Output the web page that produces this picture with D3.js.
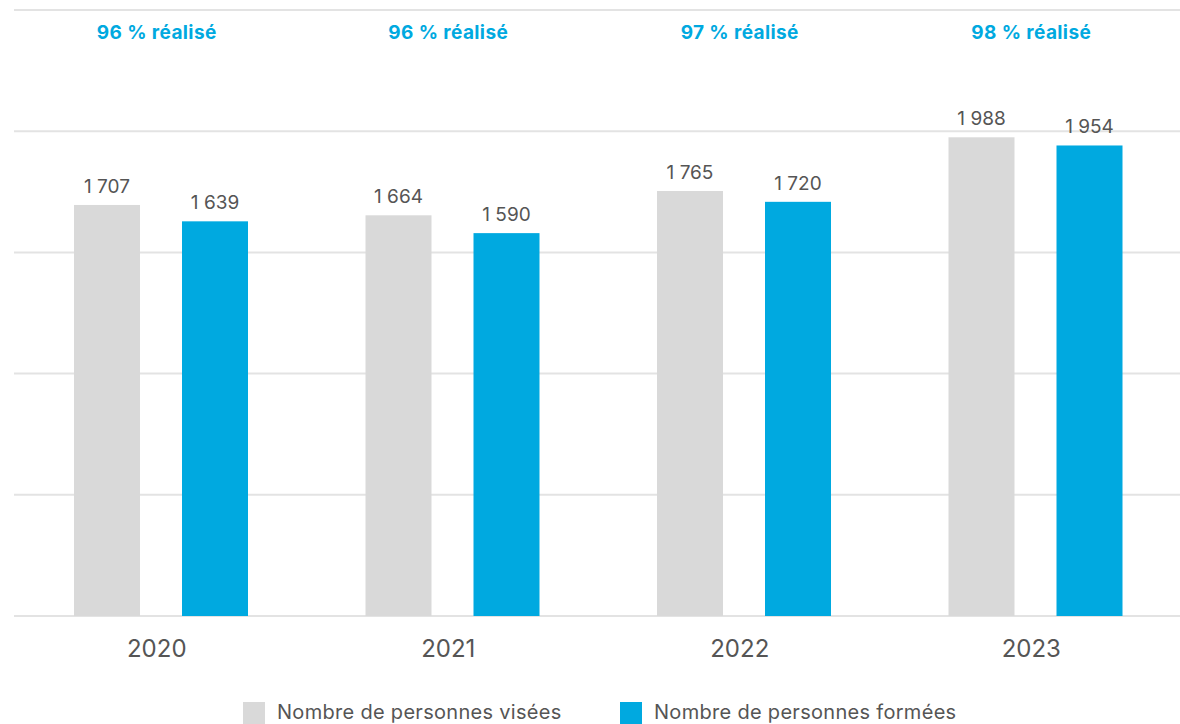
<!DOCTYPE html>
<html><head><meta charset="utf-8">
<script src="https://cdn.jsdelivr.net/npm/d3@7/dist/d3.min.js"></script>
<style>body{margin:0;background:#fff;}svg{display:block;font-family:Inter,Roboto,"Noto Sans",sans-serif;}</style>
</head><body>
<svg id="c" width="1180" height="724"></svg>
<script>
const years = ["2020","2021","2022","2023"];
const visees = [1707,1664,1765,1988];
const formees = [1639,1590,1720,1954];
const pcts = ["96 % réalisé","96 % réalisé","97 % réalisé","98 % réalisé"];
const ticks = [0,500,1000,1500,2000,2500];
const seriesNames = ["Nombre de personnes visées","Nombre de personnes formées"];
const colors = ["#d9d9d9","#00a9e0"];

(function(){
const svg = d3.select("#c");
const mLeft = 14, mRight = 1180, mTop = 10, mBottom = 616;
const x = d3.scaleBand().domain(years).range([mLeft,mRight]);
const yGrid = d3.scaleLinear().domain([0,2500]).range([mBottom,mTop]);
const y = d3.scaleLinear().domain([0,2500]).range([mBottom,mTop+4]);
const fmt = v => { const s = String(v); return s.length>3 ? s.slice(0,-3)+"\u00A0"+s.slice(-3) : s; };

svg.append("g").selectAll("line").data(ticks).join("line")
  .attr("x1",mLeft).attr("x2",mRight).attr("y1",d=>yGrid(d)).attr("y2",d=>yGrid(d))
  .attr("stroke","#e3e3e3").attr("stroke-width",2);

const barW = 66, off0 = 60, off1 = 168;
const series = [visees, formees];
series.forEach((vals,si)=>{
  const g = svg.append("g");
  g.selectAll("rect").data(years).join("rect")
    .attr("x",(d)=>x(d)+(si===0?off0:off1))
    .attr("y",(d,i)=>y(vals[i])).attr("width",barW)
    .attr("height",(d,i)=>y(0)-y(vals[i])).attr("fill",colors[si]);
  g.selectAll("text").data(years).join("text")
    .attr("x",(d)=>x(d)+(si===0?off0:off1)+barW/2)
    .attr("y",(d,i)=>y(vals[i])-12)
    .attr("text-anchor","middle").attr("font-size",19).attr("fill","#555")
    .text((d,i)=>fmt(vals[i]));
});

svg.append("g").selectAll("text").data(years).join("text")
  .attr("x",d=>x(d)+x.bandwidth()/2-3).attr("y",657)
  .attr("text-anchor","middle").attr("font-size",24).attr("fill","#555").text(d=>d);

svg.append("g").selectAll("text").data(years).join("text")
  .attr("x",d=>x(d)+x.bandwidth()/2-3).attr("y",39)
  .attr("text-anchor","middle").attr("font-size",19).attr("letter-spacing",0.4).attr("font-weight","bold").attr("fill","#00a9e0")
  .text((d,i)=>pcts[i]);

const legX = [243,620];
seriesNames.forEach((n,i)=>{
  svg.append("rect").attr("x",legX[i]).attr("y",702).attr("width",22).attr("height",24).attr("fill",colors[i]);
  svg.append("text").attr("x",legX[i]+34).attr("y",719).attr("font-size",20).attr("letter-spacing",0.3).attr("fill","#555").text(n);
});
})();
</script>
</body></html>
